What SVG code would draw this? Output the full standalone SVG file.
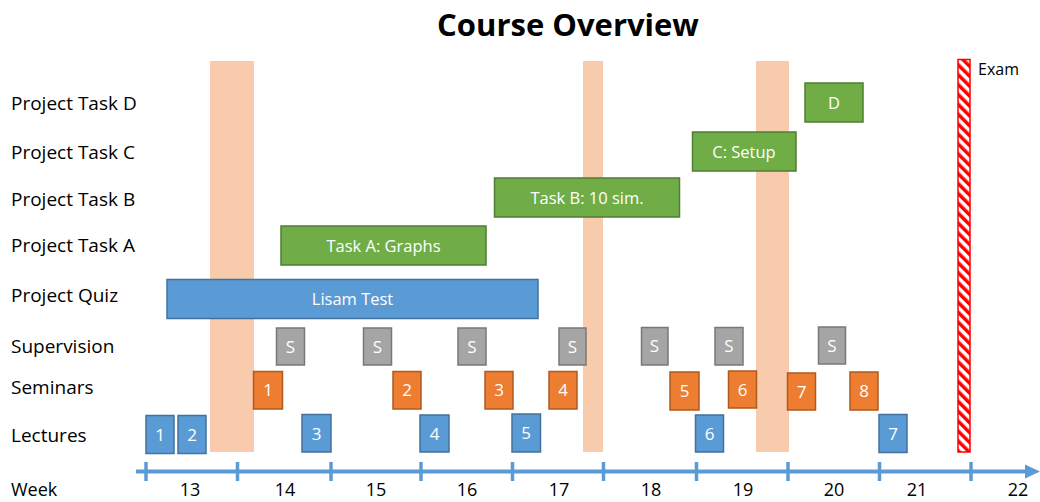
<svg xmlns="http://www.w3.org/2000/svg" width="1040" height="502" viewBox="0 0 1040 502">
<style>
.lbl{font-family:"Open Sans","Liberation Sans",sans-serif;font-size:19px;fill:#000}
.title{font-family:"Open Sans","Liberation Sans",sans-serif;font-size:31px;font-weight:bold;fill:#000}
.bt{font-family:"Open Sans","Liberation Sans",sans-serif;font-size:16.5px;fill:#fff;text-anchor:middle}
.nt{font-family:"Open Sans","Liberation Sans",sans-serif;font-size:17px;fill:#fff;text-anchor:middle}
.blue{fill:#5B9BD5;stroke:#41719C;stroke-width:1.5}
.green{fill:#70AD47;stroke:#507E32;stroke-width:1.5}
.orange{fill:#ED7D31;stroke:#AE5A21;stroke-width:1.5}
.gray{fill:#A5A5A5;stroke:#787878;stroke-width:1.5}
.band{fill:#F8CBAD}
.axis{stroke:#5B9BD5;stroke-width:4;fill:none}
.tick{stroke:#5B9BD5;stroke-width:3.5}
.wk{font-family:"Open Sans","Liberation Sans",sans-serif;font-size:18px;fill:#000;text-anchor:middle}
</style>
<defs>
<pattern id="hatch" width="7" height="7" patternUnits="userSpaceOnUse" patternTransform="rotate(-45)">
<rect width="7" height="7" fill="#fff"/>
<rect width="3.5" height="7" fill="#FF0000"/>
</pattern>
</defs>
<rect width="1040" height="502" fill="#fff"/>
<text class="title" x="568" y="36" text-anchor="middle">Course Overview</text>
<g id="row-labels">
<text class="lbl" x="11" y="110">Project Task D</text>
<text class="lbl" x="11" y="159">Project Task C</text>
<text class="lbl" x="11" y="206">Project Task B</text>
<text class="lbl" x="11" y="252">Project Task A</text>
<text class="lbl" x="11" y="302">Project Quiz</text>
<text class="lbl" x="11" y="353">Supervision</text>
<text class="lbl" x="11" y="394">Seminars</text>
<text class="lbl" x="11" y="442">Lectures</text>
<text class="lbl" x="11" y="496" style="font-size:18px">Week</text>
</g>
<g id="breaks">
<rect class="band" x="210" y="61" width="44" height="391"/>
<rect class="band" x="583" y="61" width="20" height="391"/>
<rect class="band" x="756" y="61" width="33" height="391"/>
</g>
<g id="exam">
<rect x="958" y="59.5" width="12" height="392.5" fill="url(#hatch)" stroke="#FF0000" stroke-width="1.5"/>
<text x="978" y="75" font-family="'Open Sans','Liberation Sans',sans-serif" font-size="16" fill="#000">Exam</text>
</g>
<g id="connectors">
<line class="axis" x1="136" y1="471.5" x2="1028" y2="471.5"/>
<polygon points="1025,464.5 1040,471.5 1025,478.5" fill="#5B9BD5"/>
<line class="tick" x1="146" y1="462" x2="146" y2="481"/>
<line class="tick" x1="237.5" y1="462" x2="237.5" y2="481"/>
<line class="tick" x1="331" y1="462" x2="331" y2="481"/>
<line class="tick" x1="421" y1="462" x2="421" y2="481"/>
<line class="tick" x1="512.5" y1="462" x2="512.5" y2="481"/>
<line class="tick" x1="603.5" y1="462" x2="603.5" y2="481"/>
<line class="tick" x1="696.5" y1="462" x2="696.5" y2="481"/>
<line class="tick" x1="788" y1="462" x2="788" y2="481"/>
<line class="tick" x1="879.5" y1="462" x2="879.5" y2="481"/>
<line class="tick" x1="971" y1="462" x2="971" y2="481"/>
</g>
<g id="week-numbers">
<text class="wk" x="190" y="496">13</text>
<text class="wk" x="285" y="496">14</text>
<text class="wk" x="376" y="496">15</text>
<text class="wk" x="467" y="496">16</text>
<text class="wk" x="559" y="496">17</text>
<text class="wk" x="651" y="496">18</text>
<text class="wk" x="743" y="496">19</text>
<text class="wk" x="834" y="496">20</text>
<text class="wk" x="917" y="496">21</text>
<text class="wk" x="1018" y="496">22</text>
</g>
<g id="quiz"><rect class="blue" x="167" y="279.5" width="371" height="39"/><text class="bt" x="352.5" y="305">Lisam Test</text></g>
<g id="taskA"><rect class="green" x="281" y="226" width="205" height="39"/><text class="bt" x="383.5" y="251.5">Task A: Graphs</text></g>
<g id="taskB"><rect class="green" x="494.5" y="178" width="185" height="39"/><text class="bt" x="587" y="203.5">Task B: 10 sim.</text></g>
<g id="taskC"><rect class="green" x="692.5" y="132" width="103.5" height="39"/><text class="bt" x="744" y="157.5">C: Setup</text></g>
<g id="taskD"><rect class="green" x="805" y="83" width="58" height="39"/><text class="bt" x="834" y="108.5">D</text></g>
<g id="sup1"><rect class="gray" x="276.5" y="328" width="28" height="37"/><text class="nt" x="290.5" y="352.5">S</text></g>
<g id="sup2"><rect class="gray" x="363.5" y="328" width="28" height="37"/><text class="nt" x="377.5" y="352.5">S</text></g>
<g id="sup3"><rect class="gray" x="458" y="328" width="28" height="37"/><text class="nt" x="472" y="352.5">S</text></g>
<g id="sup4"><rect class="gray" x="559" y="328" width="27" height="37"/><text class="nt" x="572.5" y="352.5">S</text></g>
<g id="sup5"><rect class="gray" x="641.5" y="327.5" width="26.5" height="37.5"/><text class="nt" x="654.5" y="352">S</text></g>
<g id="sup6"><rect class="gray" x="715" y="327.5" width="28" height="37.5"/><text class="nt" x="729" y="352">S</text></g>
<g id="sup7"><rect class="gray" x="818.5" y="327" width="27" height="37"/><text class="nt" x="832" y="351.5">S</text></g>
<g id="sem1"><rect class="orange" x="253.5" y="371.5" width="29" height="37.5"/><text class="nt" x="268" y="396">1</text></g>
<g id="sem2"><rect class="orange" x="393" y="371.5" width="28" height="37.5"/><text class="nt" x="407" y="396">2</text></g>
<g id="sem3"><rect class="orange" x="485" y="371.5" width="28" height="37.5"/><text class="nt" x="499" y="396">3</text></g>
<g id="sem4"><rect class="orange" x="549" y="371.5" width="28" height="37.5"/><text class="nt" x="563" y="396">4</text></g>
<g id="sem5"><rect class="orange" x="670" y="372" width="29" height="38"/><text class="nt" x="684.5" y="397">5</text></g>
<g id="sem6"><rect class="orange" x="728.5" y="371" width="28" height="37"/><text class="nt" x="742.5" y="395.5">6</text></g>
<g id="sem7"><rect class="orange" x="787.5" y="373" width="28" height="37"/><text class="nt" x="801.5" y="397.5">7</text></g>
<g id="sem8"><rect class="orange" x="850" y="372" width="28" height="38"/><text class="nt" x="864" y="397">8</text></g>
<g id="lec1"><rect class="blue" x="146" y="415.5" width="28" height="38"/><text class="nt" x="160" y="440.5">1</text></g>
<g id="lec2"><rect class="blue" x="178" y="415.5" width="28" height="38"/><text class="nt" x="192" y="440.5">2</text></g>
<g id="lec3"><rect class="blue" x="302" y="414.5" width="29" height="37.5"/><text class="nt" x="316.5" y="439.5">3</text></g>
<g id="lec4"><rect class="blue" x="420" y="415" width="29" height="37"/><text class="nt" x="434.5" y="440">4</text></g>
<g id="lec5"><rect class="blue" x="512" y="414" width="28.5" height="38"/><text class="nt" x="526" y="439">5</text></g>
<g id="lec6"><rect class="blue" x="695.5" y="415" width="28" height="37"/><text class="nt" x="709.5" y="440">6</text></g>
<g id="lec7"><rect class="blue" x="879" y="414.5" width="28" height="38"/><text class="nt" x="893" y="439.5">7</text></g>
</svg>
